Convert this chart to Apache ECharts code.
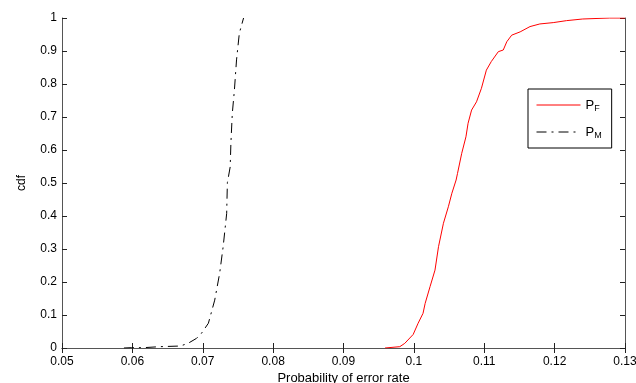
<!DOCTYPE html>
<html>
<head>
<meta charset="utf-8">
<script src="https://cdn.jsdelivr.net/npm/echarts@6/dist/echarts.min.js"></script>
<style>
  html, body { margin: 0; padding: 0; background: #fff; }
  #chart { width: 636px; height: 383px; }
</style>
</head>
<body>
<div id="chart"></div>
<script>
// error-rate cdf curves
const pfX = [0.0959, 0.0980, 0.0987, 0.0999, 0.1006, 0.1013, 0.1016, 0.1023, 0.1030, 0.1035,
             0.1042, 0.1049, 0.1054, 0.1060, 0.1062, 0.1068, 0.1074, 0.1077, 0.1082, 0.1089,
             0.1096, 0.1103, 0.1110, 0.1120, 0.1127, 0.1132, 0.1139, 0.1151, 0.1165, 0.1179,
             0.1198, 0.1217, 0.1240, 0.1278, 0.1300];
const pfY = [0.000, 0.004, 0.014, 0.041, 0.075, 0.105, 0.135, 0.186, 0.236, 0.307,
             0.378, 0.428, 0.469, 0.509, 0.529, 0.590, 0.640, 0.681, 0.721, 0.746,
             0.787, 0.842, 0.868, 0.898, 0.903, 0.928, 0.948, 0.958, 0.974, 0.982,
             0.986, 0.992, 0.997, 1.000, 1.000];

const pmX = [0.0588, 0.0599, 0.0616, 0.0639, 0.0668, 0.0679, 0.0691, 0.0698, 0.0708, 0.0717,
             0.0724, 0.0729, 0.0734, 0.0735, 0.0739, 0.0740, 0.0742, 0.0745, 0.0748, 0.0752,
             0.0758];
const pmY = [0.000, 0.001, 0.001, 0.004, 0.006, 0.014, 0.029, 0.044, 0.075, 0.145,
             0.226, 0.307, 0.408, 0.501, 0.549, 0.620, 0.711, 0.782, 0.873, 0.954,
             1.000];

const xMin = 0.05, xMax = 0.13, xStep = 0.01;
const yMin = 0, yMax = 1, yStep = 0.1;

const zip = (xs, ys) => xs.map((x, i) => [x, ys[i]]);

const chart = echarts.init(document.getElementById('chart'));
const font = 'Liberation Sans, Arial, sans-serif';
const frameColor = '#555';

const baseTicks = {
    axisLine: { show: true, lineStyle: { color: frameColor, width: 1 } },
    axisTick: { show: true, inside: true, length: 5, lineStyle: { color: '#222' } },
    splitLine: { show: false }
};

const option = {
    backgroundColor: '#fff',
    animation: false,
    textStyle: { fontFamily: font },
    grid: { left: 62, right: 11, top: 18, bottom: 35, containLabel: false, outerBoundsMode: 'none' },
    legend: {
        orient: 'vertical',
        left: 528,
        top: 89,
        padding: [8, 10, 8, 8],
        itemGap: 11,
        itemWidth: 44,
        itemHeight: 14,
        borderColor: '#000',
        borderWidth: 1,
        backgroundColor: '#fff',
        itemStyle: { opacity: 0 },
        lineStyle: { width: 1 },
        data: ['PF', 'PM'],
        formatter: name => '{p|P}{s|' + name.slice(1) + '}',
        textStyle: {
            rich: {
                p: { fontSize: 13, color: '#000', fontFamily: font, lineHeight: 16 },
                s: { fontSize: 9, color: '#000', fontFamily: font, lineHeight: 16, padding: [7, 0, 0, 0] }
            }
        }
    },
    xAxis: [
        Object.assign({
            type: 'value', position: 'bottom',
            min: xMin, max: xMax, interval: xStep,
            name: 'Probability of error rate',
            nameLocation: 'middle', nameGap: 24, nameMoveOverlap: false,
            nameTextStyle: { fontSize: 13, color: '#000', fontFamily: font },
            axisLabel: {
                fontSize: 12, color: '#000', margin: 8, fontFamily: font,
                formatter: v => String(+v.toFixed(2))
            }
        }, baseTicks),
        Object.assign({
            type: 'value', position: 'top',
            min: xMin, max: xMax, interval: xStep,
            axisLabel: { show: false }
        }, baseTicks)
    ],
    yAxis: [
        Object.assign({
            type: 'value', position: 'left',
            min: yMin, max: yMax, interval: yStep,
            name: 'cdf',
            nameLocation: 'middle', nameGap: 34, nameRotate: 90,
            nameTextStyle: { fontSize: 12, color: '#000', fontFamily: font },
            axisLabel: {
                fontSize: 12, color: '#000', margin: 5, fontFamily: font,
                formatter: v => String(+v.toFixed(1))
            }
        }, baseTicks),
        Object.assign({
            type: 'value', position: 'right',
            min: yMin, max: yMax, interval: yStep,
            axisLabel: { show: false }
        }, baseTicks)
    ],
    series: [
        {
            name: 'PF',
            type: 'line',
            data: zip(pfX, pfY),
            symbol: 'none',
            lineStyle: { color: '#ff0000', width: 1 },
            itemStyle: { color: '#ff0000' }
        },
        {
            name: 'PM',
            type: 'line',
            data: zip(pmX, pmY),
            symbol: 'none',
            lineStyle: { color: '#000', width: 1, type: [10, 5, 2, 5] },
            itemStyle: { color: '#000' }
        }
    ]
};

chart.setOption(option);
</script>
</body>
</html>
